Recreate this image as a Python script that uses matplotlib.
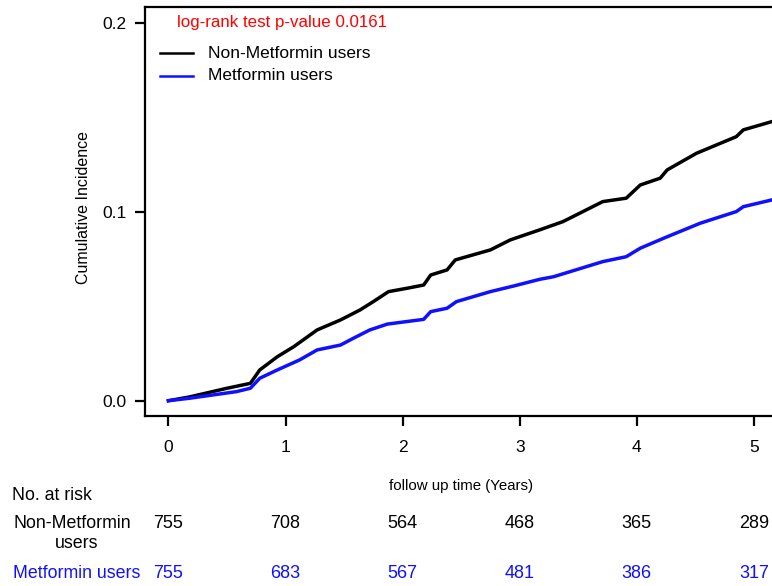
import matplotlib
matplotlib.use("Agg")
import matplotlib.pyplot as plt

plt.rcParams['font.family'] = ['Liberation Sans', 'DejaVu Sans']

# ---- data ----
t_non = [0, 0.18, 0.5, 0.70, 0.78, 0.93, 1.07, 1.27, 1.47, 1.637, 1.75, 1.88, 2.04, 2.18,
         2.24, 2.38, 2.45, 2.75, 2.92, 3.0, 3.17, 3.37, 3.71, 3.91, 4.03, 4.20, 4.26,
         4.51, 4.85, 4.91, 5.155]
y_non = [0, 0.002, 0.0066, 0.0092, 0.0163, 0.0233, 0.0286, 0.0375, 0.0428, 0.0481, 0.0525,
         0.0578, 0.0596, 0.0613, 0.0666, 0.0693, 0.0746, 0.0799, 0.0852, 0.0869, 0.0905,
         0.0949, 0.1055, 0.1073, 0.1143, 0.1179, 0.1223, 0.1311, 0.1399, 0.1435, 0.1479]

t_met = [0, 0.18, 0.58, 0.70, 0.78, 0.93, 1.12, 1.27, 1.47, 1.58, 1.72, 1.87, 2.18, 2.24,
         2.38, 2.46, 2.75, 2.95, 3.17, 3.29, 3.71, 3.91, 4.03, 4.23, 4.54, 4.85, 4.91, 5.155]
y_met = [0, 0.0013, 0.0048, 0.0066, 0.0119, 0.0163, 0.0216, 0.0269, 0.0295, 0.0331, 0.0375,
         0.0406, 0.0431, 0.0472, 0.049, 0.0525, 0.0578, 0.0608, 0.0643, 0.0657, 0.0737,
         0.0763, 0.0808, 0.0861, 0.094, 0.1002, 0.1028, 0.1064]

xticks = [0, 1, 2, 3, 4, 5]
yticks = [0.0, 0.1, 0.2]
ytick_labels = ["0.0", "0.1", "0.2"]
risk_non = [755, 708, 564, 468, 365, 289]
risk_met = [755, 683, 567, 481, 386, 317]
pvalue_text = "log-rank test p-value 0.0161"
series_names = ["Non-Metformin users", "Metformin users"]

W, H = 772, 586
fig = plt.figure(figsize=(W / 100, H / 100), dpi=100)

def fx(px):
    return px / W

def fy(py):
    return 1 - py / H

ax_left, ax_right, ax_top, ax_bottom = 145, 772, 7, 416
ax = fig.add_axes([fx(ax_left), fy(ax_bottom), fx(ax_right - ax_left), (ax_bottom - ax_top) / H])
ax.set_xlim(-0.2, 5.155)
ax.set_ylim(-0.0081, 0.2086)

ax.plot(t_non, y_non, color='black', lw=2.5, solid_joinstyle='round')
ax.plot(t_met, y_met, color='#1010ff', lw=2.5, solid_joinstyle='round')

for s in ['left', 'top', 'bottom']:
    ax.spines[s].set_linewidth(1.6)
ax.spines['right'].set_visible(False)

ax.set_xticks(xticks)
ax.set_xticklabels([str(v) for v in xticks])
ax.set_yticks(yticks)
ax.set_yticklabels(ytick_labels)
ax.tick_params(axis='both', direction='out', length=7.2, width=1.6, labelsize=12.5)
ax.tick_params(axis='x', pad=10)
ax.tick_params(axis='y', pad=6)

# legend (manual, R-style)
fig.add_artist(plt.Line2D([fx(160), fx(193)], [fy(53), fy(53)], color='black', lw=1.8))
fig.add_artist(plt.Line2D([fx(160), fx(193)], [fy(76), fy(76)], color='#1010ff', lw=1.8))
fig.text(fx(208), fy(53), series_names[0], fontsize=12.5, va='center', ha='left')
fig.text(fx(208), fy(76), series_names[1], fontsize=12.5, va='center', ha='left')

fig.text(fx(177), fy(22), pvalue_text, color='red', fontsize=12.2, va='center', ha='left')

fig.text(fx(83), fy(207), "Cumulative Incidence", rotation=90, fontsize=11.5,
         va='center', ha='center')
fig.text(fx(461), fy(486), "follow up time (Years)", fontsize=10.8, va='center', ha='center')

# number at risk table
fig.text(fx(12), fy(495), "No. at risk", fontsize=12.8, va='center', ha='left')
fig.text(fx(72), fy(523), "Non-Metformin", fontsize=12.8, va='center', ha='center')
fig.text(fx(77), fy(544), "users", fontsize=12.8, va='center', ha='center')
fig.text(fx(77), fy(573), "Metformin users", fontsize=12.8, va='center', ha='center',
         color='#1010ff')

for i, t in enumerate(xticks):
    xd = ax.transData.transform((t, 0))[0] / W
    fig.text(xd, fy(523), str(risk_non[i]), fontsize=13, va='center', ha='center')
    fig.text(xd, fy(573), str(risk_met[i]), fontsize=13, va='center', ha='center',
             color='#1010ff')

fig.savefig("out.png", dpi=100)
